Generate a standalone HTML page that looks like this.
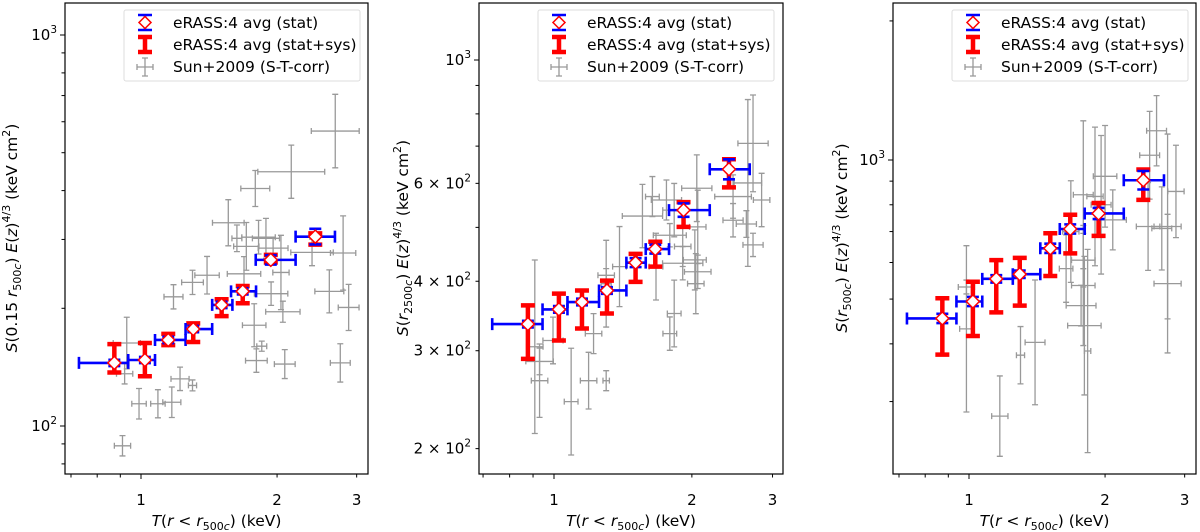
<!DOCTYPE html>
<html><head><meta charset="utf-8"><style>
html,body{margin:0;padding:0;background:#fff;}
svg{display:block;font-family:"DejaVu Sans","Liberation Sans",sans-serif;}
</style></head><body>
<svg id="fig" width="1200" height="532" viewBox="0 0 1200 532" xmlns="http://www.w3.org/2000/svg"></svg>
<script>
// ---------- data: eRASS:4 averages (T, T lo/hi, S, sys lo/hi, stat dex) ----------
const p1T   = [0.873,1.02,1.149,1.305,1.508,1.679,1.937,2.43];
const p1Tlo = [0.729,0.937,1.074,1.255,1.437,1.582,1.794,2.198];
const p1Thi = [0.937,1.074,1.255,1.437,1.593,1.797,2.198,2.686];
const p1S   = [145,147.5,166,177,204,221,266,305];
const p1Slo = [137,134,161,164,191,206,262,291];
const p1Shi = [162,163,172,183,211,228,274,311];
const p1Stat= [0.008,0.008,0.008,0.008,0.008,0.008,0.012,0.02];

const p2T   = [0.877,1.025,1.151,1.305,1.507,1.664,1.918,2.41];
const p2Tlo = [0.733,0.944,1.07,1.254,1.439,1.586,1.783,2.188];
const p2Thi = [0.944,1.07,1.254,1.439,1.586,1.783,2.188,2.675];
const p2S   = [335,356,367,385,432,457,537,636];
const p2Slo = [290,313,329,350,399,425,501,590];
const p2Shi = [362,380,385,401,448,471,555,663];
const p2Stat= [0.006,0.006,0.006,0.006,0.008,0.008,0.012,0.018];

const p3T   = [0.873,1.02,1.149,1.295,1.513,1.675,1.935,2.43];
const p3Tlo = [0.729,0.938,1.07,1.25,1.438,1.588,1.803,2.2];
const p3Thi = [0.938,1.07,1.25,1.438,1.588,1.803,2.2,2.70];
const p3S   = [454,494,553,566,644,709,766,904];
const p3Slo = [379,416,468,484,561,628,685,820];
const p3Shi = [502,545,607,614,694,761,807,954];
const p3Stat= [0.01,0.01,0.008,0.008,0.01,0.01,0.012,0.02];

// ---------- data: Sun+2009 (T, S, T err dex, S err dex) ----------
const g1T  = [2.69,2.15,1.79,1.56,1.82,1.89,1.71,1.63,2.80,2.39,1.96,2.04,1.69,1.40,1.30,1.18,1.94,2.61,2.88,2.06,1.78,1.85,0.93,0.92,1.80,2.08,2.76,1.22,1.30,0.99,1.09,1.17,0.91];
const g1S  = [568,447,405,331,304,302,288,302,277,278,285,247,245,243,233,214,218,221,201,196,181,160,163,136,147,144,145,132,127,114,114,115,89];
const g1eT = [.053,.074,.032,.035,.037,.030,.028,.011,.028,.047,.033,.018,.037,.027,.024,.021,.037,.032,.023,.038,.026,.011,.030,.018,.024,.023,.022,.020,.009,.016,.016,.020,.018];
const g1eS = [.094,.068,.046,.059,.043,.051,.061,.034,.095,.034,.026,.095,.044,.048,.031,.031,.030,.055,.059,.027,.055,.013,.066,.026,.030,.037,.049,.030,.014,.039,.036,.039,.026];

const g2T  = [2.72,2.65,2.84,2.72,2.46,2.46,2.63,2.05,2.06,2.03,2.06,2.04,1.91,1.91,1.79,1.76,1.83,1.64,1.56,1.67,1.83,1.79,1.39,1.30,1.30,1.22,1.19,1.30,1.09,0.908,0.93,0.93,0.995];
const g2S  = [708,601,560,465,568,515,507,588,501,437,416,396,431,462,484,560,537,568,524,425,350,322,425,410,396,322,265,265,243,305,265,287,313];
const g2eT = [.033,.03,.018,.022,.04,.022,.022,.033,.018,.025,.029,.018,.044,.018,.036,.033,.025,.015,.044,.015,.015,.015,.015,.018,.011,.018,.018,.007,.015,.018,.018,.03,.022];
const g2eS = [.087,.15,.048,.021,.039,.03,.024,.06,.066,.054,.03,.054,.03,.036,.021,.036,.048,.036,.057,.06,.06,.03,.072,.012,.078,.036,.051,.018,.096,.156,.066,.024,.042];

const g3T  = [2.60,2.51,2.49,2.75,2.67,2.87,2.75,2.0,1.96,2.08,1.90,1.79,1.68,1.64,1.79,1.79,1.77,1.80,1.83,0.987,0.987,1.40,1.30,1.17];
const g3S  = [1157,1024,718,718,711,855,540,922,800,742,834,841,700,582,607,535,484,438,386,431,531,403,378,279];
const g3eT = [.022,.022,.026,.03,.022,.018,.03,.026,.022,.03,.018,.022,.018,.015,.026,.026,.033,.037,.007,.015,.018,.022,.009,.018];
const g3eS = [.076,.095,.095,.2,.09,.1,.15,.11,.15,.065,.15,.16,.11,.073,.058,.13,.044,.15,.22,.18,.015,.135,.062,.087];

// ---------- tick labels ----------
const xTickVals = [1,2,3];
const xTickLabels = ["1","2","3"];
const xMinorVals = [0.6,0.7,0.8,0.9,2,3];
const p1YMajor = [100,1000];
const p1YMajorLabels = [["10","2"],["10","3"]];
const p2YLabVals = [200,300,400,600,1000];
const p2YLabels = [["2 × 10","2"],["3 × 10","2"],["4 × 10","2"],["6 × 10","2"],["10","3"]];
const p3YLabVals = [1000];
const p3YLabels = [["10","3"]];

const NS="http://www.w3.org/2000/svg";
const svg=document.getElementById('fig');
function mk(tag,attrs,parent){const e=document.createElementNS(NS,tag);for(const k in attrs)e.setAttribute(k,attrs[k]);(parent||svg).appendChild(e);return e;}

const panels=[
 {id:1,L:65,R:368,T:3,B:474,x0:141,xpd:452,y0:35,ypd:391,
  T_:p1T,Tlo:p1Tlo,Thi:p1Thi,S:p1S,Slo:p1Slo,Shi:p1Shi,St:p1Stat,gT:g1T,gS:g1S,geT:g1eT,geS:g1eS,
  yLabVals:p1YMajor,yLabels:p1YMajorLabels,majorY:[100,1000],ylabX:17,ylabSub:"0.15 ",legX:124},
 {id:2,L:479,R:783,T:3,B:474,x0:554,xpd:458,y0:60,ypd:556,
  T_:p2T,Tlo:p2Tlo,Thi:p2Thi,S:p2S,Slo:p2Slo,Shi:p2Shi,St:p2Stat,gT:g2T,gS:g2S,geT:g2eT,geS:g2eS,
  yLabVals:p2YLabVals,yLabels:p2YLabels,majorY:[1000],ylabX:408,ylabSub:"2500",legX:538},
 {id:3,L:893,R:1196,T:3,B:474,x0:969,xpd:452,y0:160,ypd:462,
  T_:p3T,Tlo:p3Tlo,Thi:p3Thi,S:p3S,Slo:p3Slo,Shi:p3Shi,St:p3Stat,gT:g3T,gS:g3S,geT:g3eT,geS:g3eS,
  yLabVals:p3YLabVals,yLabels:p3YLabels,majorY:[1000],ylabX:847,ylabSub:"500c",legX:952}
];

panels.forEach(p=>{
  const xs=t=>p.x0+p.xpd*Math.log10(t);
  const ys=s=>p.y0+p.ypd*(3-Math.log10(s));
  const g=mk('g',{});
  
  
  const cid='clip'+p.id;
  const cp=mk('clipPath',{id:cid},g); mk('rect',{x:p.L,y:p.T,width:p.R-p.L,height:p.B-p.T},cp);
  const plot=mk('g',{'clip-path':'url(#'+cid+')'},g);
  // gray Sun points
  for(let i=0;i<p.gT.length;i++){
    const cx=xs(p.gT[i]),cy=ys(p.gS[i]);
    const x1=xs(p.gT[i]/Math.pow(10,p.geT[i])),x2=xs(p.gT[i]*Math.pow(10,p.geT[i]));
    const y1=ys(p.gS[i]*Math.pow(10,p.geS[i])),y2=ys(p.gS[i]/Math.pow(10,p.geS[i]));
    const c=mk('path',{d:`M${x1},${cy}H${x2}M${cx},${y1}V${y2}M${x1},${cy-3}V${cy+3}M${x2},${cy-3}V${cy+3}M${cx-3},${y1}H${cx+3}M${cx-3},${y2}H${cx+3}`,stroke:'#999',fill:'none','stroke-width':1.3},plot);
    
    
  }
  // eRASS points
  for(let i=0;i<p.T_.length;i++){
    const cx=xs(p.T_[i]),cy=ys(p.S[i]);
    const ry1=ys(p.Shi[i]),ry2=ys(p.Slo[i]);
    const r=mk('path',{d:`M${cx},${ry1}V${ry2}M${cx-7},${ry1}H${cx+7}M${cx-7},${ry2}H${cx+7}`,stroke:'#ff0000',fill:'none','stroke-width':4.5},plot);
    
    
    const x1=xs(p.Tlo[i]),x2=xs(p.Thi[i]);
    const by1=ys(p.S[i]*Math.pow(10,p.St[i])),by2=ys(p.S[i]/Math.pow(10,p.St[i]));
    const b=mk('path',{d:`M${x1},${cy}H${x2}M${x1},${cy-6}V${cy+6}M${x2},${cy-6}V${cy+6}M${cx},${by1}V${by2}M${cx-6},${by1}H${cx+6}M${cx-6},${by2}H${cx+6}`,stroke:'#0000ff',fill:'none','stroke-width':2.6},plot);
    
    
    const d=mk('path',{d:`M${cx},${cy-6.5}L${cx+6.5},${cy}L${cx},${cy+6.5}L${cx-6.5},${cy}Z`,fill:'#fff',stroke:'#ff0000','stroke-width':1.5},plot);
    
    
  }
  // frame
  const fr=mk('rect',{x:p.L,y:p.T,width:p.R-p.L,height:p.B-p.T,fill:'none',stroke:'#000','stroke-width':1.2},g);
  
  
  // x ticks
  const xt=mk('g',{},g);
  
  
  xMinorVals.forEach(v=>{const x=xs(v);if(x>p.L&&x<p.R)mk('line',{x1:x,x2:x,y1:p.B,y2:p.B+3.5,stroke:'#000','stroke-width':1},xt);});
  mk('line',{x1:xs(1),x2:xs(1),y1:p.B,y2:p.B+5,stroke:'#000','stroke-width':1},xt);
  xTickVals.forEach((v,i)=>{const t=mk('text',{x:xs(v),y:505,'text-anchor':'middle','font-size':15},xt);t.textContent=xTickLabels[i];});
  const xl=mk('text',{x:(p.L+p.R)/2,y:526,'text-anchor':'middle','font-size':15.5},g);
  
  
  xl.innerHTML='<tspan font-style="italic">T</tspan>(<tspan font-style="italic">r</tspan> &lt; <tspan font-style="italic">r</tspan><tspan font-size="11" dy="4">500<tspan font-style="italic">c</tspan></tspan><tspan dy="-4">) (keV)</tspan>';
  // y ticks
  const yt=mk('g',{},g);
  
  
  for(let dec=10;dec<=1000;dec*=10){for(let m=1;m<10;m++){const v=dec*m;const y=ys(v);if(y<p.T||y>p.B)continue;const maj=p.majorY.indexOf(v)>=0;mk('line',{x1:p.L,x2:p.L-(maj?5:3.5),y1:y,y2:y,stroke:'#000','stroke-width':1},yt);}}
  p.yLabVals.forEach((v,i)=>{const t=mk('text',{x:p.L-8,y:ys(v)+5,'text-anchor':'end','font-size':15},yt);t.innerHTML=p.yLabels[i][0]+'<tspan font-size="10.5" dy="-7">'+p.yLabels[i][1]+'</tspan>';});
  const yl=mk('text',{x:0,y:0,'text-anchor':'middle','font-size':15.5,transform:`translate(${p.ylabX},238) rotate(-90)`},g);
  
  
  yl.innerHTML='<tspan font-style="italic">S</tspan>('+(p.id===1?'0.15 ':'')+'<tspan font-style="italic">r</tspan><tspan font-size="11" dy="4">'+(p.id===2?'2500':'500')+'<tspan font-style="italic">c</tspan></tspan><tspan dy="-4">) </tspan><tspan font-style="italic">E</tspan>(<tspan font-style="italic">z</tspan>)<tspan font-size="11" dy="-7">4/3</tspan><tspan dy="7"> (keV cm</tspan><tspan font-size="11" dy="-7">2</tspan><tspan dy="7">)</tspan>';
  // legend
  const lg=mk('g',{},g);
  
  
  const lx=p.legX;
  mk('rect',{x:lx,y:10,width:236,height:71,rx:2,fill:'#fff','fill-opacity':0.85,stroke:'#ddd','stroke-width':1},lg);
  const mx=lx+21;
  const e1=mk('g',{},lg);
  
  
  mk('path',{d:`M${mx},15V30M${mx-7},15H${mx+7}M${mx-7},30H${mx+7}`,stroke:'#0000ff','stroke-width':2.6,fill:'none'},e1);
  mk('path',{d:`M${mx},16.5L${mx+6},22.5L${mx},28.5L${mx-6},22.5Z`,fill:'#fff',stroke:'#ff0000','stroke-width':1.5},e1);
  let t=mk('text',{x:lx+49,y:28,'font-size':15.5},e1);t.textContent='eRASS:4 avg (stat)';
  const e2=mk('g',{},lg);
  
  
  mk('path',{d:`M${mx},37V52M${mx-7},37H${mx+7}M${mx-7},52H${mx+7}`,stroke:'#ff0000','stroke-width':4.5,fill:'none'},e2);
  t=mk('text',{x:lx+49,y:50,'font-size':15.5},e2);t.textContent='eRASS:4 avg (stat+sys)';
  const e3=mk('g',{},lg);
  
  
  mk('path',{d:`M${mx-8},67H${mx+8}M${mx},58V76M${mx-8},64V70M${mx+8},64V70M${mx-3},58H${mx+3}M${mx-3},76H${mx+3}`,stroke:'#999','stroke-width':1.3,fill:'none'},e3);
  t=mk('text',{x:lx+49,y:72,'font-size':15.5},e3);t.textContent='Sun+2009 (S-T-corr)';
});
</script>
</body></html>
